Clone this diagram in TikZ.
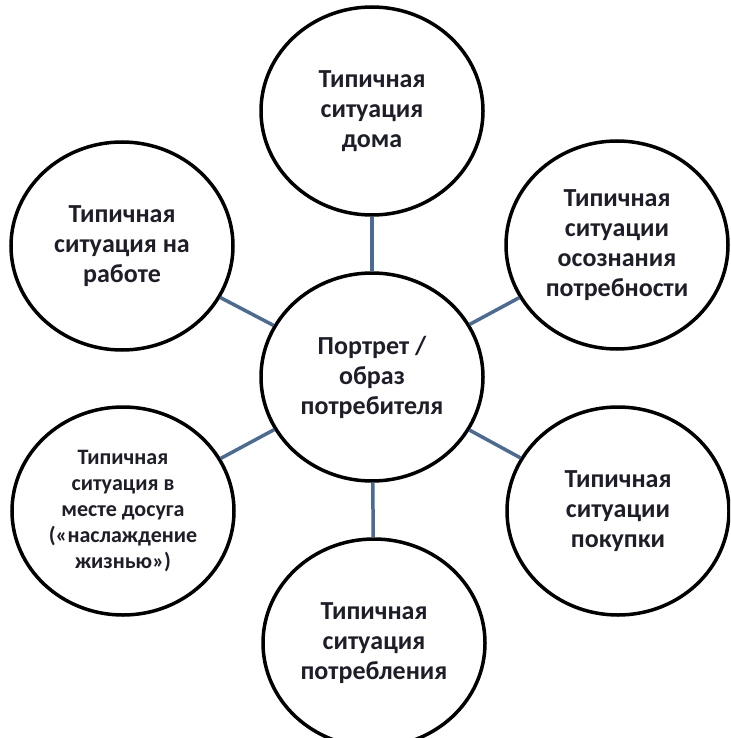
\documentclass[tikz,border=0pt]{standalone}
\usepackage{fontspec}
\setmainfont{Carlito}
\usetikzlibrary{shapes.geometric}

\definecolor{linkblue}{RGB}{74,107,148}
\definecolor{textdark}{RGB}{30,30,40}

\tikzset{
    situation/.style={ellipse, draw=black, line width=3.5pt, fill=white,
        minimum width=222pt, minimum height=208pt, inner sep=0pt,
        align=center, text=textdark, font=\bfseries\fontsize{26}{30}\selectfont},
    link/.style={draw=linkblue, line width=3.5pt}
}

\begin{document}
\begin{tikzpicture}[x=1pt,y=-1pt]
    \useasboundingbox (0,0) rectangle (730,738);
    \clip (0,0) rectangle (730,738);
    \fill [white] (0,0) rectangle (730,738);

    \begin{scope}

        \node [situation] (portrait) at (372,377) {Портрет /\\образ\\потребителя};
        \node [situation] (home)     at (372,111) {Типичная\\ситуация\\дома};
        \node [situation] (work)     at (122,246) {Типичная\\ситуация на\\работе};
        \node [situation] (need)     at (617,245) {Типичная\\ситуации\\осознания\\потребности};
        \node [situation, font=\bfseries\fontsize{22}{26}\selectfont]
                          (leisure)  at (123,511) {Типичная\\ситуация в\\месте досуга\\(«наслаждение\\жизнью»)};
        \node [situation] (purchase) at (618,511) {Типичная\\ситуации\\покупки};
        \node [situation] (consume)  at (374,643) {Типичная\\ситуация\\потребления};

        \foreach \n in {home,work,need,leisure,purchase,consume}{%
            \draw [link] (portrait) -- (\n);
        }

    \end{scope}
\end{tikzpicture}
\end{document}
